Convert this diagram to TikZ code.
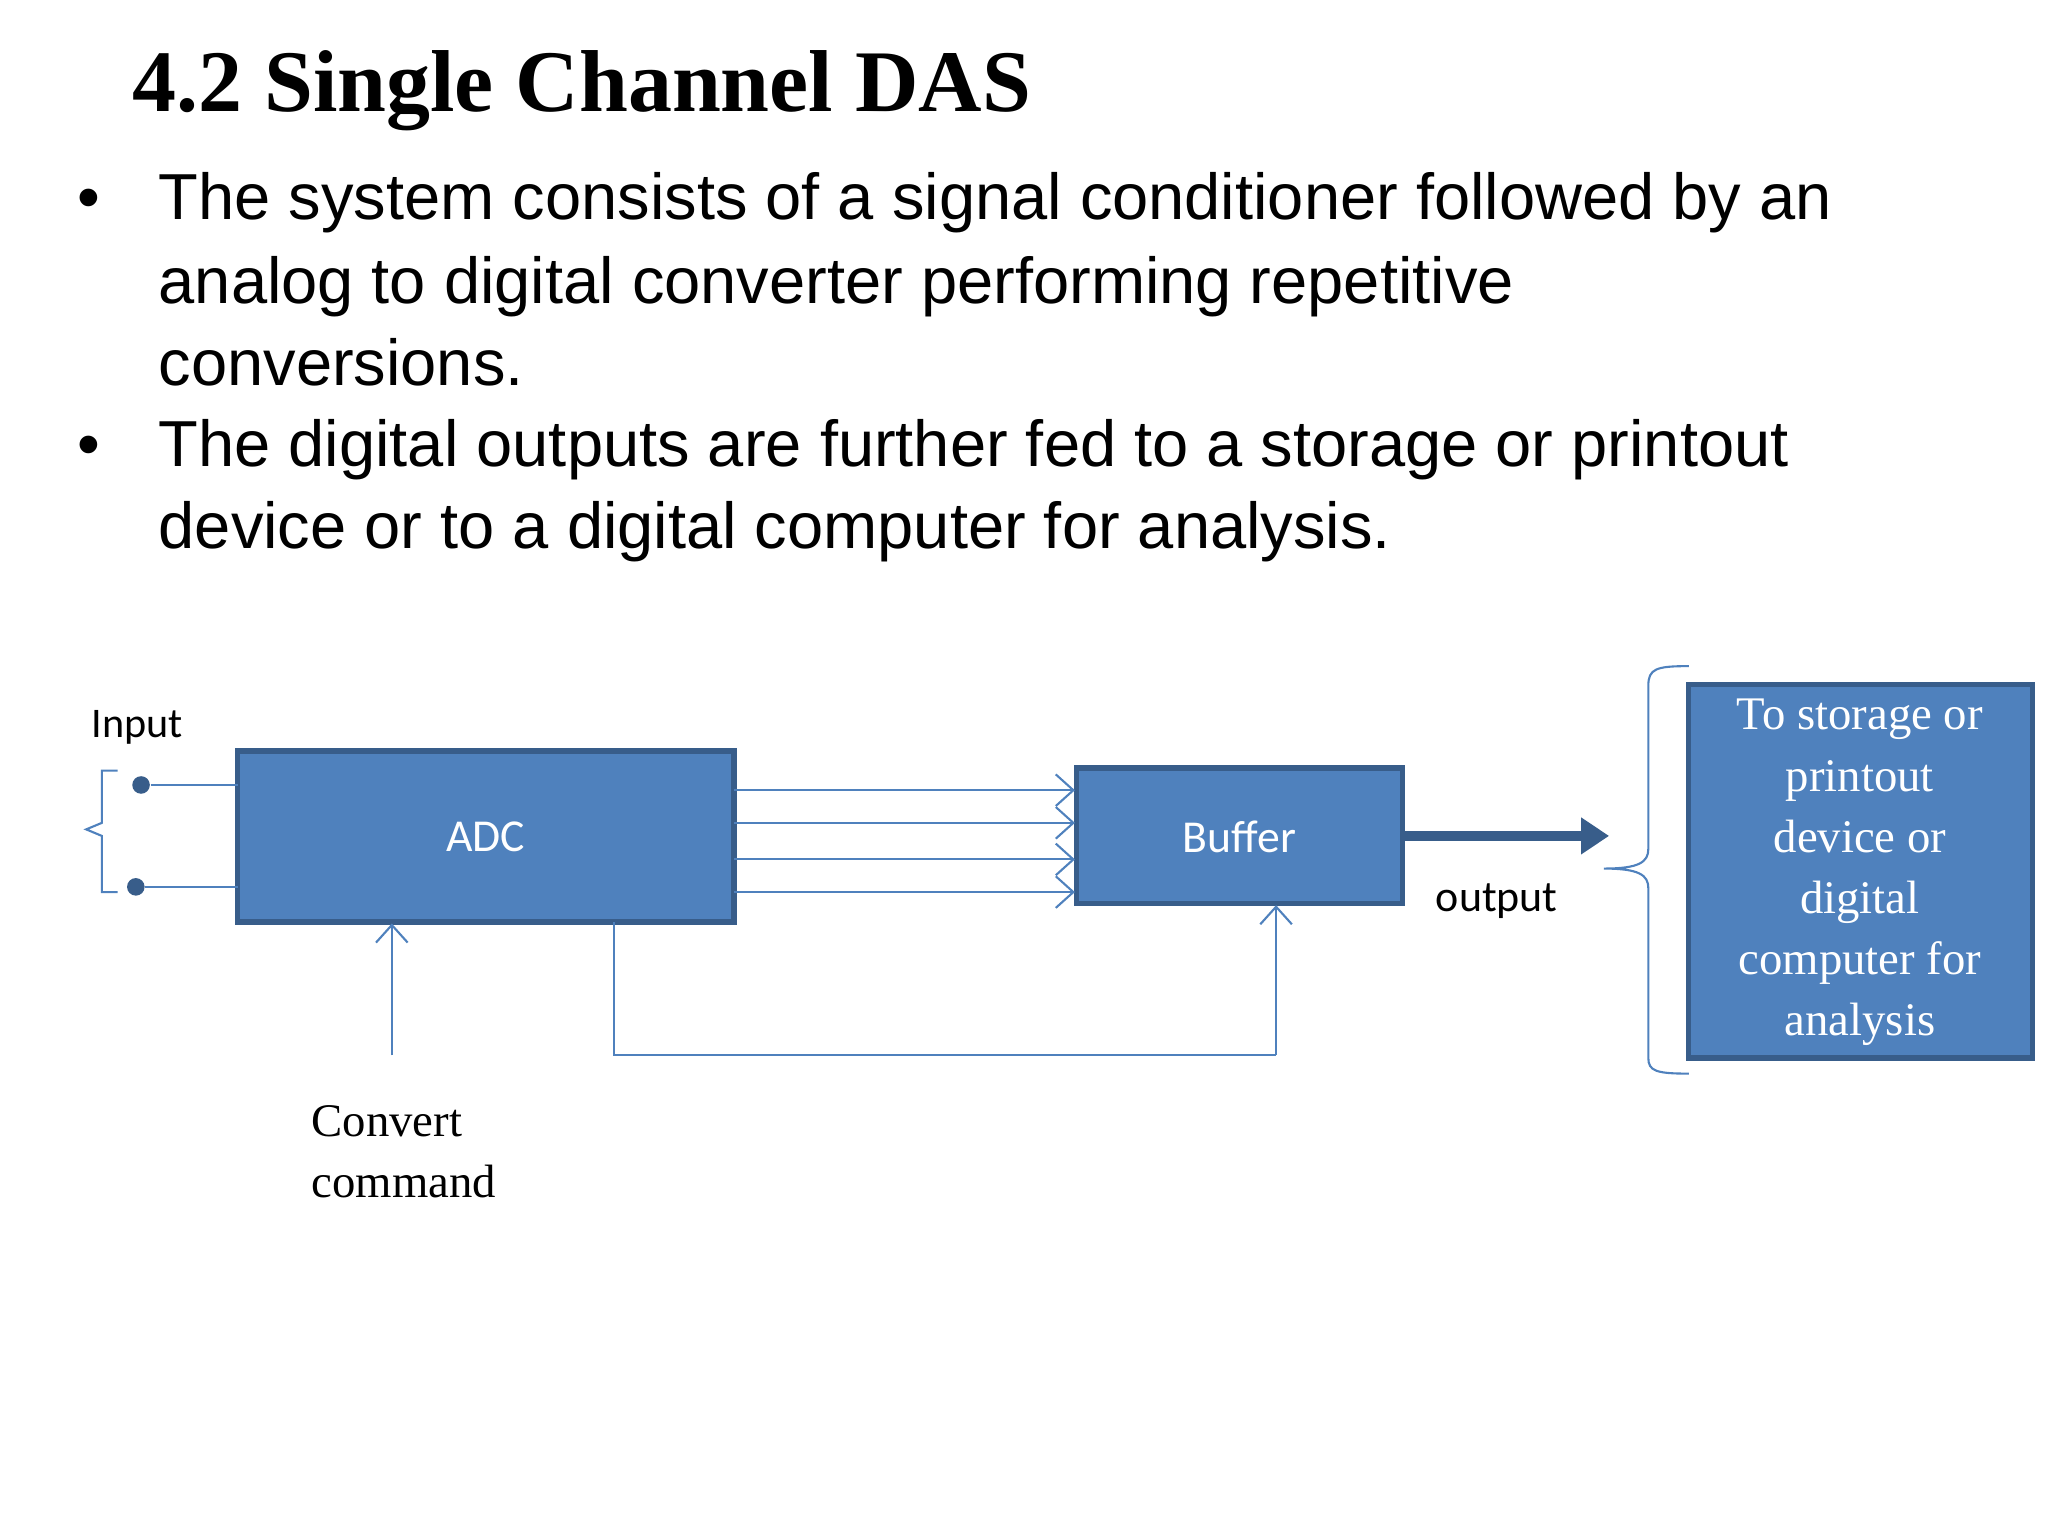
\documentclass[tikz,border=0pt]{standalone}
\usepackage{fontspec}
\setmainfont{Liberation Serif}
\newfontfamily\arialf{Liberation Sans}
\newfontfamily\calib{Carlito}
\usetikzlibrary{arrows.meta}
\definecolor{bfill}{HTML}{4F81BD}
\definecolor{bdraw}{HTML}{385D8A}
\begin{document}
\begin{tikzpicture}[x=0.013061cm,y=-0.013061cm,
  blk/.style={draw=bdraw,line width=1.5pt,fill=bfill,inner sep=0pt},
  wire/.style={draw=bfill,line width=0.6pt},
  arr/.style={wire,-{Straight Barb[length=5pt,width=9pt]}},
  bul/.style={anchor=base west,font=\arialf\fontsize{18.5}{22}\selectfont}]
\useasboundingbox (0,0) rectangle (1568,1176);
\node[font=\bfseries\fontsize{25}{30}\selectfont,anchor=base west] (title) at (92,85) {4.2 Single Channel DAS};
\node[bul] (b1) at (50,168) {•};
\node[bul] (l1) at (112,168) {The system consists of a signal conditioner followed by an};
\node[bul] (l2) at (112,232) {analog to digital converter performing repetitive};
\node[bul] (l3) at (112,295) {conversions.};
\node[bul] (b2) at (50,357) {•};
\node[bul] (l4) at (112,357) {The digital outputs are further fed to a storage or printout};
\node[bul] (l5) at (112,420) {device or to a digital computer for analysis.};
% blocks
\path[blk] (182,575) rectangle (562,706);
\node[font=\calib\fontsize{13}{16}\selectfont,text=white] (adc) at (372,641) {ADC};
\coordinate (adcR) at (562,0);
\path[blk] (824,588) rectangle (1074,692);
\node[font=\calib\fontsize{13}{16}\selectfont,text=white] (buf) at (949,641) {Buffer};
\path[blk] (1293,524) rectangle (1556,810);
\node[align=center,text=white,font=\fontsize{13.3}{17.4}\selectfont] (out) at (1424,668)
 {To storage or\\printout\\device or\\digital\\computer for\\analysis};
% input
\node[font=\calib\fontsize{12}{14}\selectfont] (inp) at (105,557) {Input};
\node[circle,fill=bdraw,inner sep=0pt,minimum size=5pt] (t1) at (108,601) {};
\node[circle,fill=bdraw,inner sep=0pt,minimum size=5pt] (t2) at (104,679) {};
\coordinate (a1) at (182,601); \coordinate (a2) at (182,679);
\draw[wire] (t1) -- (a1); \draw[wire] (t2) -- (a2);
\draw[wire] (90,590) -- (78,590) -- (78,630) -- (66,635) -- (78,640) -- (78,683) -- (90,683);
% four lines
\foreach \yy in {605,630,658,683}{
  \coordinate (s\yy) at (562,\yy); \coordinate (e\yy) at (823,\yy);
  \draw[arr] (s\yy) -- (e\yy);}
% convert
\coordinate (c0) at (300,808); \coordinate (c1) at (300,707);
\draw[arr] (c0) -- (c1);
\node[anchor=north west,align=left,font=\fontsize{13.3}{17.4}\selectfont,inner sep=0pt] (cc) at (238,846) {Convert\\command};
% feedback
\coordinate (f0) at (470,706); \coordinate (f1) at (977,808); \coordinate (f2) at (977,693);
\draw[wire] (f0) -- (470,808) -- (f1);
\draw[arr] (f1) -- (f2);
% output
\coordinate (o0) at (1074,640); \coordinate (o1) at (1232,640);
\draw[draw=bdraw,line width=3pt,-{Triangle[length=8pt,width=10pt]}] (o0) -- (o1);
\node[font=\calib\fontsize{12.5}{15}\selectfont] (otext) at (1146,690) {output};
% brace
\draw[wire] (1293,510) .. controls (1268,510) and (1262,512) .. (1262,525) -- (1262,650)
  .. controls (1262,660) and (1255,665) .. (1228,665)
  .. controls (1255,665) and (1262,670) .. (1262,680) -- (1262,810)
  .. controls (1262,820) and (1268,822) .. (1293,822);
\end{tikzpicture}
\end{document}
